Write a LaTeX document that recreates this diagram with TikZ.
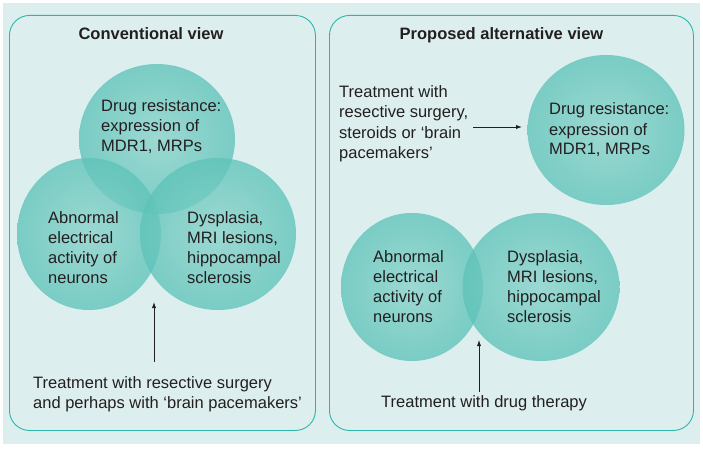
\documentclass[tikz,border=0pt]{standalone}
\usepackage{fontspec}
\setmainfont{Liberation Sans}
\usetikzlibrary{shapes.geometric,arrows.meta}
\definecolor{bgc}{HTML}{DCEFEE}
\definecolor{panelline}{HTML}{2EB5A9}
\definecolor{circout}{HTML}{5EC3B9}
\definecolor{circin}{HTML}{8AD3CB}
\definecolor{txt}{HTML}{231F20}
\tikzset{
  panel/.style={draw=panelline, line width=0.9pt, rounded corners=20pt, fill=bgc},
  blob/.style={ellipse, inner sep=0pt, inner color=circin, outer color=circout, fill opacity=0.78},
  lbl/.style={anchor=base west, align=left, inner sep=0pt, text=txt, font=\fontsize{16.5}{20}\selectfont},
  ttl/.style={anchor=base, inner sep=0pt, text=txt, font=\fontsize{16.5}{20}\selectfont\bfseries},
  arr/.style={draw=txt, line width=0.8pt, -{Latex[length=6pt,width=4.2pt]}},
}
\begin{document}
\begin{tikzpicture}[x=1pt,y=-1pt]
\useasboundingbox (0,0) rectangle (703,449);
\fill[white] (0,0) rectangle (703,449);
\fill[bgc] (3,3) rectangle (700,444);
% panels
\node[panel, minimum width=306pt, minimum height=415pt, anchor=north west] (pl) at (9,15) {};
\node[panel, minimum width=364pt, minimum height=415pt, anchor=north west] (pr) at (329,15) {};
% left circles
\node[blob, minimum width=156pt, minimum height=150pt] (cLtop) at (157,139) {};
\node[blob, minimum width=144pt, minimum height=152pt] (cLleft) at (89,234) {};
\node[blob, minimum width=156pt, minimum height=152pt] (cLright) at (218,234) {};
% right circles
\node[blob, minimum width=157pt, minimum height=150pt] (cRtop) at (606,130) {};
\node[blob, minimum width=142pt, minimum height=148pt] (cRleft) at (412,287) {};
\node[blob, minimum width=157pt, minimum height=148pt] (cRright) at (541,287) {};
% titles
\node[ttl] (tL) at (151,40) {Conventional view};
\node[ttl] (tR) at (501.5,40) {Proposed alternative view};
% left texts (anchor at baseline of last line)
\node[lbl] (drugL) at (101,152) {Drug resistance:\\expression of\\MDR1, MRPs};
\node[lbl] (abnL) at (48,283) {Abnormal\\electrical\\activity of\\neurons};
\node[lbl] (dysL) at (187,283) {Dysplasia,\\MRI lesions,\\hippocampal\\sclerosis};
\node[lbl] (treatL) at (33,408) {Treatment with resective surgery\\and perhaps with `brain pacemakers'};
% right texts
\node[lbl] (treatR1) at (339,158) {Treatment with\\resective surgery,\\steroids or `brain\\pacemakers'};
\node[lbl] (drugR) at (549,155) {Drug resistance:\\expression of\\MDR1, MRPs};
\node[lbl] (abnR) at (373,322) {Abnormal\\electrical\\activity of\\neurons};
\node[lbl] (dysR) at (507,322) {Dysplasia,\\MRI lesions,\\hippocampal\\sclerosis};
\node[lbl] (treatR2) at (381,407) {Treatment with drug therapy};
% arrow tips
\coordinate (tipL) at (154,302);
\coordinate (tipR1) at (522,127);
\coordinate (tipR2) at (479,340);
\draw[arr] (treatL.north -| tipL) ++(0,-14) -- (tipL);
\draw[arr] (treatR1.east |- tipR1) ++(5,0) -- (tipR1);
\draw[arr] (treatR2.north -| tipR2) ++(0,-3) -- (tipR2);
\end{tikzpicture}
\end{document}
